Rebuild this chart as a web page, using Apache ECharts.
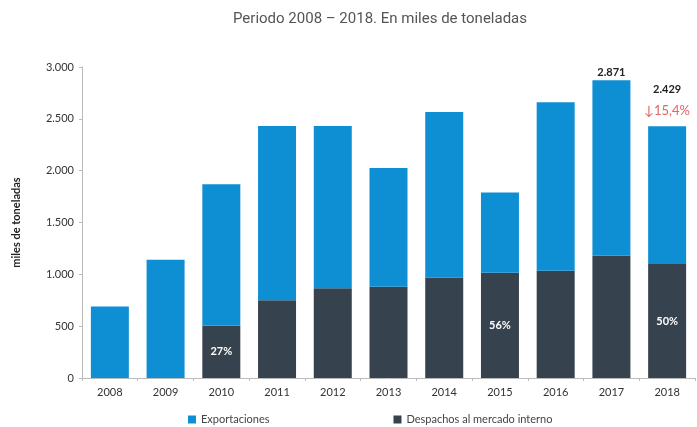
<!DOCTYPE html>
<html>
<head>
<meta charset="utf-8">
<script src="https://cdn.jsdelivr.net/npm/echarts@6/dist/echarts.min.js"></script>
<style>html,body{margin:0;padding:0;background:#fff}#c{width:697px;height:427px}</style>
</head>
<body>
<div id="c"></div>
<script>
const years = ['2008','2009','2010','2011','2012','2013','2014','2015','2016','2017','2018'];
const domestic = [0, 0, 505, 750, 865, 880, 970, 1015, 1035, 1180, 1100];
const exportsV = [690, 1140, 1365, 1680, 1565, 1145, 1595, 775, 1625, 1691, 1329];
const shareLabels = {'2010': '27%', '2015': '56%', '2018': '50%'};
const totalLabelYears = ['2017', '2018'];
const yTicks = [0, 500, 1000, 1500, 2000, 2500, 3000];

const fmt = v => String(v).replace(/\B(?=(\d{3})+(?!\d))/g, '.');
const totals = years.map((y, i) => domestic[i] + exportsV[i]);
const i17 = years.indexOf('2017'), i18 = years.indexOf('2018');
const change = ((totals[i17] - totals[i18]) / totals[i17] * 100).toFixed(1).replace('.', ',');

const font = 'Lato, "Open Sans", sans-serif';
const chart = echarts.init(document.getElementById('c'));
chart.setOption({
  animation: false,
  title: {
    text: 'Periodo 2008 – 2018. En miles de toneladas',
    left: 375, top: 7, textAlign: 'center',
    textStyle: {fontFamily: 'Roboto, sans-serif', fontWeight: 'normal', fontSize: 15, color: '#555'}
  },
  legend: {
    left: 183, top: 409, itemWidth: 8, itemHeight: 8, itemGap: 124, icon: 'rect',
    textStyle: {fontFamily: font, fontSize: 11, color: '#444'},
    data: ['Exportaciones', 'Despachos al mercado interno']
  },
  grid: {left: 82, right: 2, top: 67, bottom: 49},
  xAxis: {
    type: 'category', data: years,
    axisLine: {lineStyle: {color: '#bbb'}},
    axisTick: {show: true, length: 3, lineStyle: {color: '#bbb'}},
    axisLabel: {fontFamily: font, fontSize: 11, color: '#333', margin: 9}
  },
  yAxis: {
    type: 'value', min: yTicks[0], max: yTicks[yTicks.length - 1], interval: 500,
    name: 'miles de toneladas', nameLocation: 'middle', nameGap: 60,
    nameTextStyle: {fontFamily: font, fontSize: 11, fontWeight: 'bold', color: '#222'},
    axisLine: {show: true, lineStyle: {color: '#bbb'}},
    axisTick: {show: true, length: 3, lineStyle: {color: '#bbb'}},
    splitLine: {show: false},
    axisLabel: {fontFamily: font, fontSize: 11, color: '#333', margin: 8, formatter: v => fmt(v)}
  },
  series: [
    {
      name: 'Despachos al mercado interno', type: 'bar', stack: 't', barWidth: 38,
      itemStyle: {color: '#37424f'},
      data: domestic.map((v, i) => ({
        value: v,
        label: shareLabels[years[i]] ? {
          show: true, position: 'inside', formatter: shareLabels[years[i]],
          fontFamily: font, fontSize: 11, fontWeight: 'bold', color: '#fff'
        } : {show: false}
      }))
    },
    {
      name: 'Exportaciones', type: 'bar', stack: 't', barWidth: 38,
      itemStyle: {color: '#0f8fd3'},
      data: exportsV.map((v, i) => {
        const y = years[i];
        if (!totalLabelYears.includes(y)) return v;
        const is18 = y === '2018';
        const txt = is18
          ? '{a|' + fmt(totals[i]) + '}\n{b|↓' + change + '%}'
          : '{c|' + fmt(totals[i]) + '}';
        return {
          value: v,
          label: {
            show: true, position: 'top', distance: is18 ? 4 : 1, formatter: txt,
            rich: {
              a: {fontFamily: font, fontSize: 11, fontWeight: 'bold', color: '#222', lineHeight: 22},
              c: {fontFamily: font, fontSize: 11, fontWeight: 'bold', color: '#222', lineHeight: 13},
              b: {fontFamily: font, fontSize: 13, color: '#e06464', lineHeight: 22}
            }
          }
        };
      })
    }
  ]
});
</script>
</body>
</html>
